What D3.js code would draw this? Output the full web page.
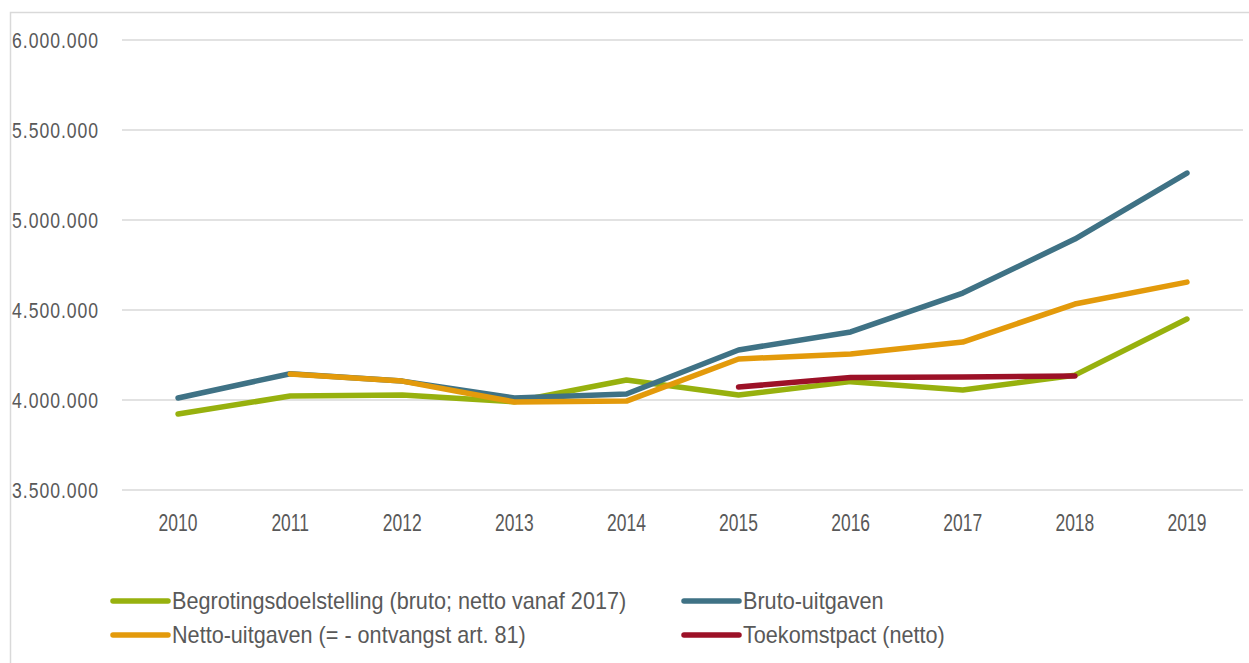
<!DOCTYPE html>
<html>
<head>
<meta charset="utf-8">
<script src="https://cdn.jsdelivr.net/npm/d3@7"></script>
<style>
  html, body { margin: 0; padding: 0; background: #fff; }
  svg { display: block; }
  text { font-family: "Liberation Sans", Arial, sans-serif; fill: #595959; }
</style>
</head>
<body>
<svg id="chart" width="1249" height="663"></svg>
<script>
const years = ["2010","2011","2012","2013","2014","2015","2016","2017","2018","2019"];
const yTicks = [3500000, 4000000, 4500000, 5000000, 5500000, 6000000];

const begroting = [3922000, 4022000, 4028000, 3990000, 4111000, 4028000, 4102000, 4055000, 4138000, 4450000];
const bruto     = [4011000, 4146000, 4105000, 4011000, 4033000, 4278000, 4378000, 4594000, 4894000, 5261000];
const netto     = [null, 4144000, 4105000, 3989000, 3994000, 4228000, 4255000, 4322000, 4533000, 4655000];
const toekomst  = [null, null, null, null, null, 4072000, 4125000, 4128000, 4133000, null];

const seriesNames = ["Begrotingsdoelstelling (bruto; netto vanaf 2017)", "Bruto-uitgaven",
                     "Netto-uitgaven (= - ontvangst art. 81)", "Toekomstpact (netto)"];
const seriesColors = ["#97b10e", "#3f7285", "#e39a0b", "#9c1127"];
const seriesData = [begroting, bruto, netto, toekomst];

const svg = d3.select("#chart");

// frame
svg.append("path").attr("d", "M10.5,670 V12.5 H1260")
  .attr("fill", "none").attr("stroke", "#d9d9d9").attr("stroke-width", 1.5);

const x = d3.scalePoint().domain(years).range([122, 1243]).padding(0.5);
const y = d3.scaleLinear().domain([3500000, 6000000]).range([490, 40]);

const fmt = v => d3.format(",")(v).replace(/,/g, ".");

// gridlines
svg.append("g").selectAll("line").data(yTicks).join("line")
  .attr("x1", 122).attr("x2", 1243)
  .attr("y1", d => y(d)).attr("y2", d => y(d))
  .attr("stroke", "#d9d9d9").attr("stroke-width", 1.5);

// y labels (narrow by horizontal scaling)
svg.append("g").selectAll("g").data(yTicks).join("g")
  .attr("transform", d => `translate(99,${y(d) + 8}) scale(0.8,1)`)
  .append("text")
  .attr("text-anchor", "end")
  .attr("font-size", 22)
  .style("letter-spacing", "1.2px")
  .text(fmt);

// x labels
svg.append("g").selectAll("g").data(years).join("g")
  .attr("transform", d => `translate(${x(d)},531) scale(0.76,1)`)
  .append("text")
  .attr("text-anchor", "middle")
  .attr("font-size", 23)
  .text(d => d);

// lines
const line = d3.line()
  .defined(d => d.v !== null)
  .x(d => x(d.year)).y(d => y(d.v));

seriesData.forEach((arr, i) => {
  const pts = years.map((yr, j) => ({year: yr, v: arr[j]}));
  svg.append("path")
    .datum(pts)
    .attr("fill", "none")
    .attr("stroke", seriesColors[i])
    .attr("stroke-width", 5.5)
    .attr("stroke-linecap", "round")
    .attr("stroke-linejoin", "round")
    .attr("d", line);
});

// legend
const legendPos = [
  {x: 113, y: 601}, {x: 684, y: 601},
  {x: 113, y: 635}, {x: 684, y: 635}
];
const lg = svg.append("g");
seriesNames.forEach((name, i) => {
  const p = legendPos[i];
  lg.append("line")
    .attr("x1", p.x).attr("x2", p.x + 55)
    .attr("y1", p.y).attr("y2", p.y)
    .attr("stroke", seriesColors[i]).attr("stroke-width", 5.5)
    .attr("stroke-linecap", "round");
  lg.append("g")
    .attr("transform", `translate(${p.x + 59},${p.y + 8}) scale(0.94,1)`)
    .append("text")
    .attr("font-size", 23)
    .text(name);
});
</script>
</body>
</html>
